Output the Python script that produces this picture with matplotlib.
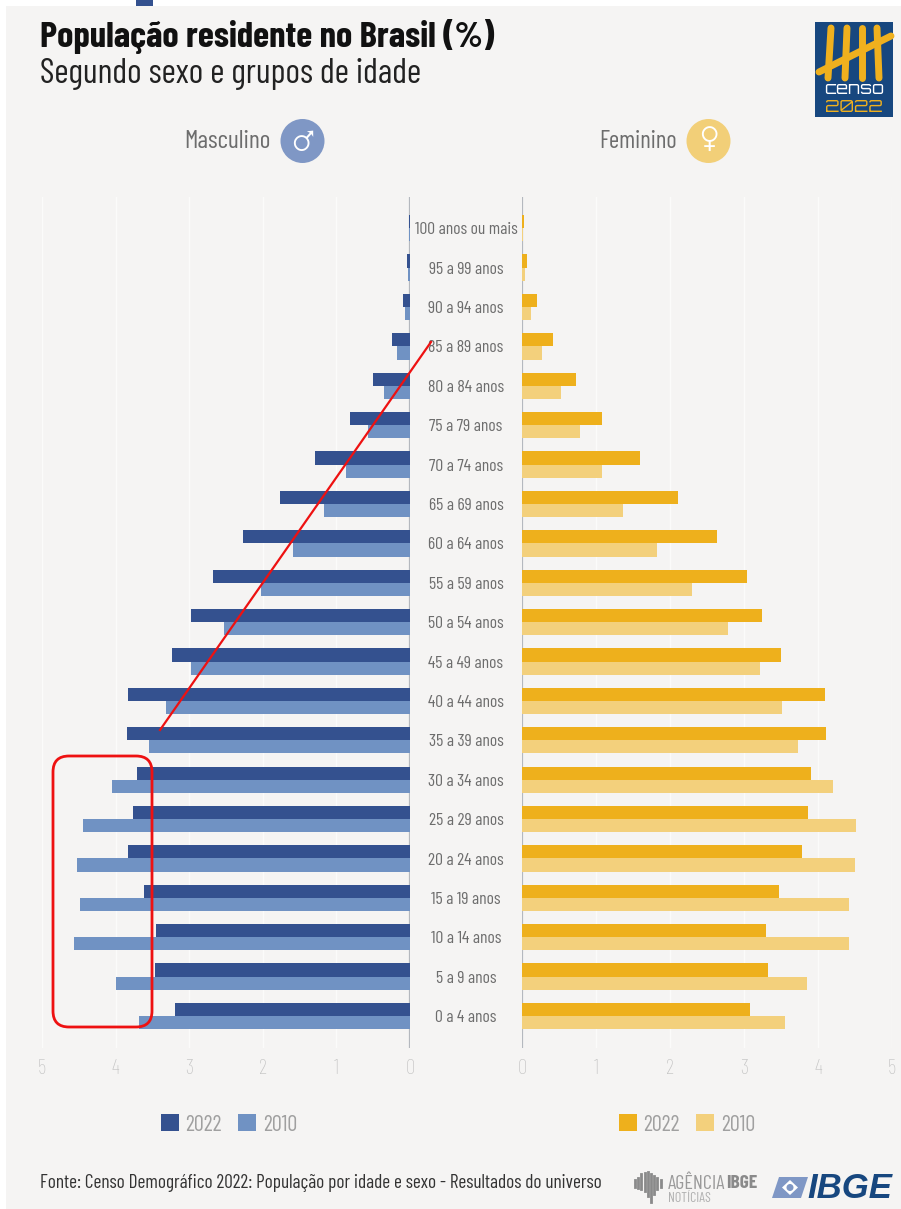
import matplotlib
matplotlib.use("Agg")
import matplotlib.pyplot as plt
from matplotlib.patches import Rectangle, FancyBboxPatch, Circle, Polygon

# Population pyramid, Censo 2022 vs 2010 (% of population)
plt.rcParams['font.family'] = ['Barlow Condensed', 'Liberation Sans', 'DejaVu Sans']

W, H = 901, 1209

age_groups = ['0 a 4 anos', '5 a 9 anos', '10 a 14 anos', '15 a 19 anos', '20 a 24 anos',
              '25 a 29 anos', '30 a 34 anos', '35 a 39 anos', '40 a 44 anos', '45 a 49 anos',
              '50 a 54 anos', '55 a 59 anos', '60 a 64 anos', '65 a 69 anos', '70 a 74 anos',
              '75 a 79 anos', '80 a 84 anos', '85 a 89 anos', '90 a 94 anos', '95 a 99 anos',
              '100 anos ou mais']
male_2022 = [3.19, 3.46, 3.45, 3.61, 3.83, 3.76, 3.71, 3.85, 3.83, 3.23, 2.97,
             2.67, 2.27, 1.77, 1.29, 0.82, 0.50, 0.25, 0.10, 0.04, 0.02]
male_2010 = [3.68, 3.99, 4.57, 4.48, 4.52, 4.44, 4.05, 3.55, 3.31, 2.98, 2.53,
             2.03, 1.59, 1.17, 0.87, 0.57, 0.35, 0.17, 0.07, 0.03, 0.01]
female_2022 = [3.08, 3.32, 3.30, 3.47, 3.78, 3.86, 3.91, 4.11, 4.09, 3.50, 3.24,
               3.04, 2.63, 2.11, 1.60, 1.08, 0.73, 0.42, 0.20, 0.07, 0.03]
female_2010 = [3.55, 3.85, 4.42, 4.42, 4.50, 4.52, 4.20, 3.73, 3.51, 3.22, 2.78,
               2.30, 1.82, 1.37, 1.08, 0.78, 0.53, 0.27, 0.12, 0.04, 0.01]
ticks = [0, 1, 2, 3, 4, 5]

BG = '#f5f4f3'
BLUE_DARK, BLUE_LIGHT = '#34518f', '#7092c3'
GOLD_DARK, GOLD_LIGHT = '#eeb01c', '#f3d07c'
TICK_GRAY = '#c2c2c2'
TEXT_GRAY = '#6d6d6d'
LOGO_BLUE = '#17477f'


def px_axes(fig, x0, y0, x1, y1, **kw):
    # axes from pixel box, y measured from the top of the image
    return fig.add_axes([x0 / W, 1 - y1 / H, (x1 - x0) / W, (y1 - y0) / H], **kw)


def draw_side(ax, v2022, v2010, c2022, c2010):
    y = list(range(len(age_groups)))
    bar_h = 0.335
    ax.barh([i + bar_h / 2 for i in y], v2022, height=bar_h, color=c2022, label='2022', zorder=3)
    ax.barh([i - bar_h / 2 for i in y], v2010, height=bar_h, color=c2010, label='2010', zorder=3)
    ax.set_ylim(-0.81, 20.79)
    ax.set_yticks([])
    ax.set_xticks(ticks)
    ax.set_xticklabels([str(t) for t in ticks], fontsize=15, color=TICK_GRAY, fontweight='light')
    ax.tick_params(axis='x', length=0, pad=8)
    ax.grid(axis='x', color='#fbfbfa', lw=1, zorder=0)
    ax.set_facecolor('none')
    for s in ax.spines.values():
        s.set_visible(False)


def side_legend(ax, cx):
    ax.legend(ncol=2, frameon=False, loc='center', bbox_to_anchor=(cx / W, 1 - 1125 / H),
              bbox_transform=ax.figure.transFigure, fontsize=16, labelcolor='#a0a0a0',
              handlelength=0.8, handleheight=0.8, handletextpad=0.3, columnspacing=0.75,
              borderpad=0, borderaxespad=0)


fig = plt.figure(figsize=(W / 100, H / 100), dpi=100, facecolor='white')

# pixel overlay for panel, header, logos
bg = fig.add_axes([0, 0, 1, 1], zorder=0)
bg.set_xlim(0, W)
bg.set_ylim(H, 0)
bg.axis('off')
bg.add_patch(Rectangle((6, 6), W - 6, H - 6, color=BG, lw=0))
bg.add_patch(Rectangle((136, 0), 17, 6, color=BLUE_DARK, lw=0))

bg.text(40, 47, 'População residente no Brasil (%)', fontsize=26.4, fontweight='bold',
        color='#111111', va='baseline')
bg.text(40, 83, 'Segundo sexo e grupos de idade', fontsize=25, color='#222222', va='baseline')

bg.text(271, 141, 'Masculino', fontsize=18.5, color=TEXT_GRAY, ha='right', va='center')
bg.add_patch(Circle((302.5, 141), 22, color='#7f97c5', lw=0))
bg.text(302.5, 141, '♂', fontsize=27, color='white', ha='center', va='center',
        family=['Noto Sans Symbols', 'DejaVu Sans'])
bg.text(677, 141, 'Feminino', fontsize=17.8, color=TEXT_GRAY, ha='right', va='center')
bg.add_patch(Circle((708.5, 141), 22, color='#f2cf78', lw=0))
bg.text(708.5, 141, '♀', fontsize=27, color='white', ha='center', va='center',
        family=['Noto Sans Symbols', 'DejaVu Sans'])

# censo logo
bg.add_patch(Rectangle((815, 22), 78, 95, color=LOGO_BLUE, lw=0))
for x0, x1 in [(831, 828), (847, 845), (862, 862), (877, 879)]:
    bg.plot([x0, x1], [28, 78], color='#efb01e', lw=5, solid_capstyle='round')
bg.plot([819, 891], [72, 36], color='#efb01e', lw=5, solid_capstyle='round')
bg.text(854, 89, 'censo', fontsize=12.5, color='white', ha='center', va='center',
        family=['Orbitron', 'DejaVu Sans'], fontweight='bold')
bg.text(854, 107, '2022', fontsize=12.5, color='#efb01e', ha='center', va='center',
        family=['Orbitron', 'DejaVu Sans'], fontweight='bold')

ax_l = px_axes(fig, 42, 197, 410, 1048, zorder=1)
ax_r = px_axes(fig, 522, 197, 892, 1048, zorder=1)
draw_side(ax_l, male_2022, male_2010, BLUE_DARK, BLUE_LIGHT)
draw_side(ax_r, female_2022, female_2010, GOLD_DARK, GOLD_LIGHT)
ax_l.set_xlim(5, 0)
ax_r.set_xlim(0, 5)
ax_l.axvline(0, color='#b4b8be', lw=1.6, zorder=2)
ax_r.axvline(0, color='#b4b8be', lw=1.6, zorder=2)

side_legend(ax_l, 229)
side_legend(ax_r, 687)

for i, name in enumerate(age_groups):
    ax_r.text(-56 / 74, i - 0.04, name, fontsize=12.6, color=TEXT_GRAY, ha='center', va='center')

# footer
bg.text(40, 1183, 'Fonte: Censo Demográfico 2022: População por idade e sexo - Resultados do universo',
        fontsize=13.9, color='#333333', va='center')
bg.text(668, 1184, 'AGÊNCIA', fontsize=14.5, color='#9a9a9a', va='center')
bg.text(757, 1184, 'IBGE', fontsize=14, color='#8a8a8a', va='center', ha='right', fontweight='bold')
bg.text(668, 1198, 'NOTÍCIAS', fontsize=10, color='#b0b0b0', va='center')
for k, (up, down) in enumerate([(3, 4), (5, 5), (9, 6), (10, 8), (11, 13), (9, 19), (7, 11), (5, 6), (3, 4)]):
    bg.plot([635 + k * 3.2] * 2, [1183 - up, 1183 + down], color='#8a8a8a', lw=2)
bg.add_patch(Polygon([(779, 1177), (808, 1177), (801, 1198), (772, 1198)], color='#7f97c5', lw=0))
bg.add_patch(Polygon([(790, 1180), (798, 1187.5), (790, 1195), (782, 1187.5)], color='white', lw=0))
bg.add_patch(Circle((790, 1187.5), 3.5, color='#7f97c5', lw=0))
bg.text(892, 1188, 'IBGE', fontsize=25, color=LOGO_BLUE, ha='right', va='center',
        family=['Liberation Sans', 'DejaVu Sans'], fontweight='bold', style='italic')

# red marks added on top of the original graphic
top = fig.add_axes([0, 0, 1, 1], zorder=5)
top.set_xlim(0, W)
top.set_ylim(H, 0)
top.axis('off')
top.plot([160, 431], [730, 342], color='#ee1111', lw=1.6)
top.add_patch(FancyBboxPatch((65, 768), 75, 247, boxstyle='round,pad=12,rounding_size=16',
                             fc='none', ec='#ee1111', lw=2))

fig.savefig('out.png', dpi=100, facecolor='white')
